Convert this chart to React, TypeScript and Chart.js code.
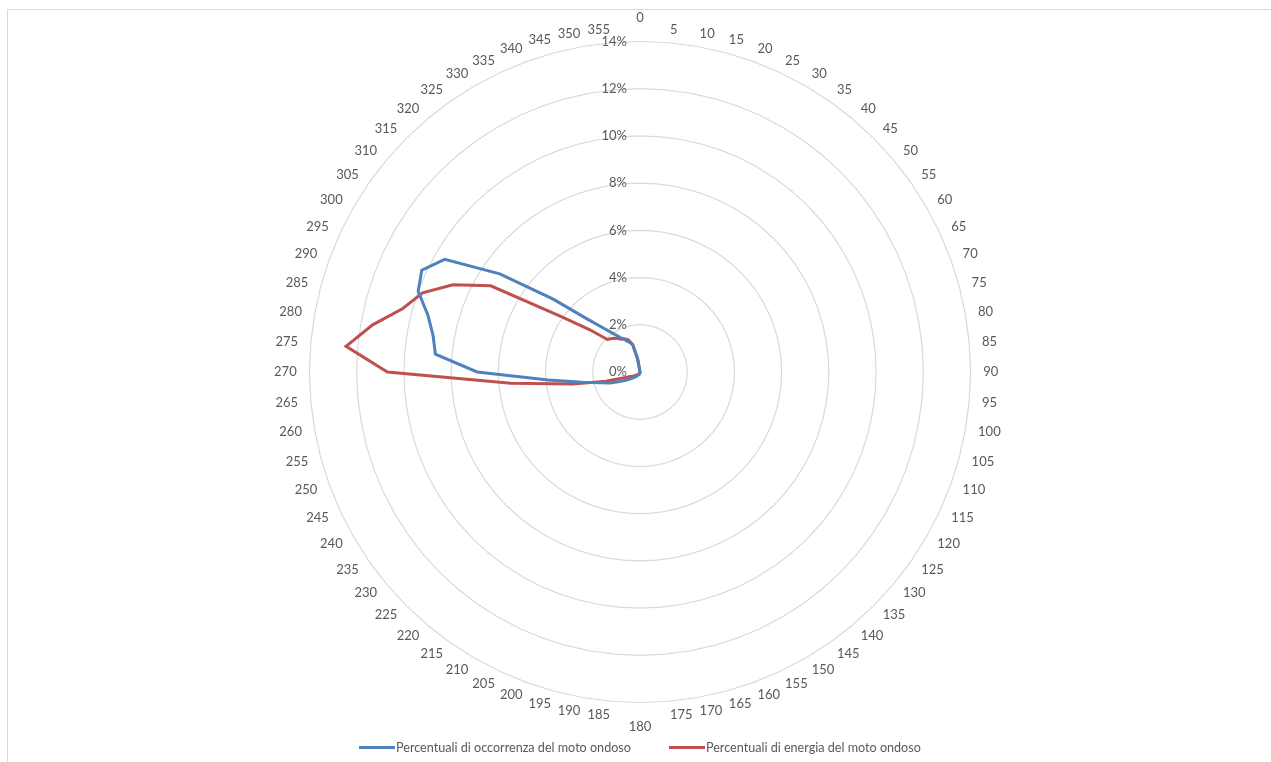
import React, { useEffect, useRef } from 'react';
import { Chart, registerables } from 'chart.js';

Chart.register(...registerables);

// Direction categories (degrees)
const directions: string[] = [
  '0', '5', '10', '15', '20', '25', '30', '35', '40', '45', '50', '55',
  '60', '65', '70', '75', '80', '85', '90', '95', '100', '105', '110', '115',
  '120', '125', '130', '135', '140', '145', '150', '155', '160', '165', '170', '175',
  '180', '185', '190', '195', '200', '205', '210', '215', '220', '225', '230', '235',
  '240', '245', '250', '255', '260', '265', '270', '275', '280', '285', '290', '295',
  '300', '305', '310', '315', '320', '325', '330', '335', '340', '345', '350', '355',
];

// Percent of wave occurrence per direction
const occurrence: number[] = [
  0, 0, 0, 0, 0, 0, 0, 0, 0, 0, 0, 0,
  0, 0, 0, 0, 0, 0, 0, 0, 0, 0, 0, 0,
  0, 0, 0, 0, 0, 0, 0, 0, 0, 0, 0, 0,
  0, 0, 0.05, 0.05, 0.1, 0.1, 0.15, 0.2, 0.25, 0.3, 0.4, 0.5,
  0.7, 0.95, 1.35, 1.75, 2.5, 3.9, 6.9, 8.7, 8.9, 9.3, 10.0, 10.2,
  9.55, 7.25, 4.8, 3.2, 2.45, 2.0, 1.7, 1.5, 1.35, 1.2, 0.6, 0,
];

// Percent of wave energy per direction
const energy: number[] = [
  0, 0, 0, 0, 0, 0, 0, 0, 0, 0, 0, 0,
  0, 0, 0, 0, 0, 0, 0, 0, 0, 0, 0, 0,
  0, 0, 0, 0, 0, 0, 0, 0, 0, 0, 0, 0,
  0, 0, 0, 0, 0.05, 0.05, 0.1, 0.1, 0.15, 0.15, 0.2, 0.25,
  0.35, 0.45, 0.7, 1.5, 2.9, 5.5, 10.7, 12.5, 11.5, 10.4, 9.8, 8.75,
  7.3, 4.1, 2.8, 1.95, 1.85, 1.75, 1.6, 1.55, 1.45, 1.2, 0.5, 0,
];

const tickValues: number[] = [0, 2, 4, 6, 8, 10, 12, 14];
const seriesNames: string[] = [
  'Percentuali di occorrenza del moto ondoso',
  'Percentuali di energia del moto ondoso',
];
const seriesColors: string[] = ['#4F81BD', '#C0504D'];

const FONT = 'Lato, "Open Sans", sans-serif';
const TEXT_COLOR = '#595959';

const leftTickLabels = {
  id: 'leftTickLabels',
  afterDraw(chart: any) {
    const s = chart.scales.r;
    const ctx = chart.ctx;
    ctx.save();
    ctx.font = `13px ${FONT}`;
    ctx.fillStyle = TEXT_COLOR;
    ctx.textAlign = 'right';
    ctx.textBaseline = 'middle';
    tickValues.forEach((v) => {
      ctx.fillText(`${v}%`, s.xCenter - 13, s.yCenter - s.getDistanceFromCenterForValue(v));
    });
    ctx.restore();
  },
};

export default function App() {
  const canvasRef = useRef<HTMLCanvasElement | null>(null);

  useEffect(() => {
    if (!canvasRef.current) return;
    const chart = new Chart(canvasRef.current, {
      type: 'radar',
      data: {
        labels: directions,
        datasets: [
          {
            label: seriesNames[0],
            data: occurrence,
            borderColor: seriesColors[0],
            backgroundColor: seriesColors[0],
            borderWidth: 3,
            pointRadius: 0,
            pointHoverRadius: 0,
            fill: false,
            tension: 0,
          },
          {
            label: seriesNames[1],
            data: energy,
            borderColor: seriesColors[1],
            backgroundColor: seriesColors[1],
            borderWidth: 3,
            pointRadius: 0,
            pointHoverRadius: 0,
            fill: false,
            tension: 0,
          },
        ],
      },
      options: {
        responsive: false,
        animation: false,
        layout: { padding: { left: 9, right: 0, top: 17, bottom: 35 } },
        plugins: {
          legend: { display: false },
          tooltip: { enabled: false },
        },
        scales: {
          r: {
            min: 0,
            max: 14,
            angleLines: { display: false },
            grid: { color: '#D9D9D9', lineWidth: 1.2 },
            ticks: { display: false, stepSize: 2 },
            pointLabels: {
              color: TEXT_COLOR,
              font: { family: FONT, size: 13, lineHeight: '1px' },
              padding: (c: any) => (c.index % 36 === 0 ? 23.5 : 12.8),
            },
          },
        },
      },
      plugins: [leftTickLabels],
    });
    return () => chart.destroy();
  }, []);

  return (
    <div style={{ position: 'fixed', left: 0, top: 0, width: 1271, height: 762, overflow: 'hidden', background: '#fff' }}>
      <div
        style={{
          position: 'absolute',
          left: 7,
          top: 9,
          width: 1264,
          height: 753,
          borderTop: '1px solid #D9D9D9',
          borderLeft: '1px solid #D9D9D9',
          boxSizing: 'border-box',
        }}
      />
      <canvas ref={canvasRef} width={1271} height={762} style={{ position: 'absolute', left: 0, top: 0 }} />
      <div
        style={{
          position: 'absolute',
          left: 359,
          top: 740,
          height: 14,
          display: 'flex',
          alignItems: 'center',
          gap: 38,
          fontFamily: FONT,
          fontSize: 12.6,
          color: TEXT_COLOR,
          whiteSpace: 'nowrap',
        }}
      >
        {seriesNames.map((name, i) => (
          <div key={name} style={{ display: 'flex', alignItems: 'center' }}>
            <span style={{ display: 'inline-block', width: 36, height: 3, background: seriesColors[i], marginRight: 1 }} />
            <span>{name}</span>
          </div>
        ))}
      </div>
    </div>
  );
}
